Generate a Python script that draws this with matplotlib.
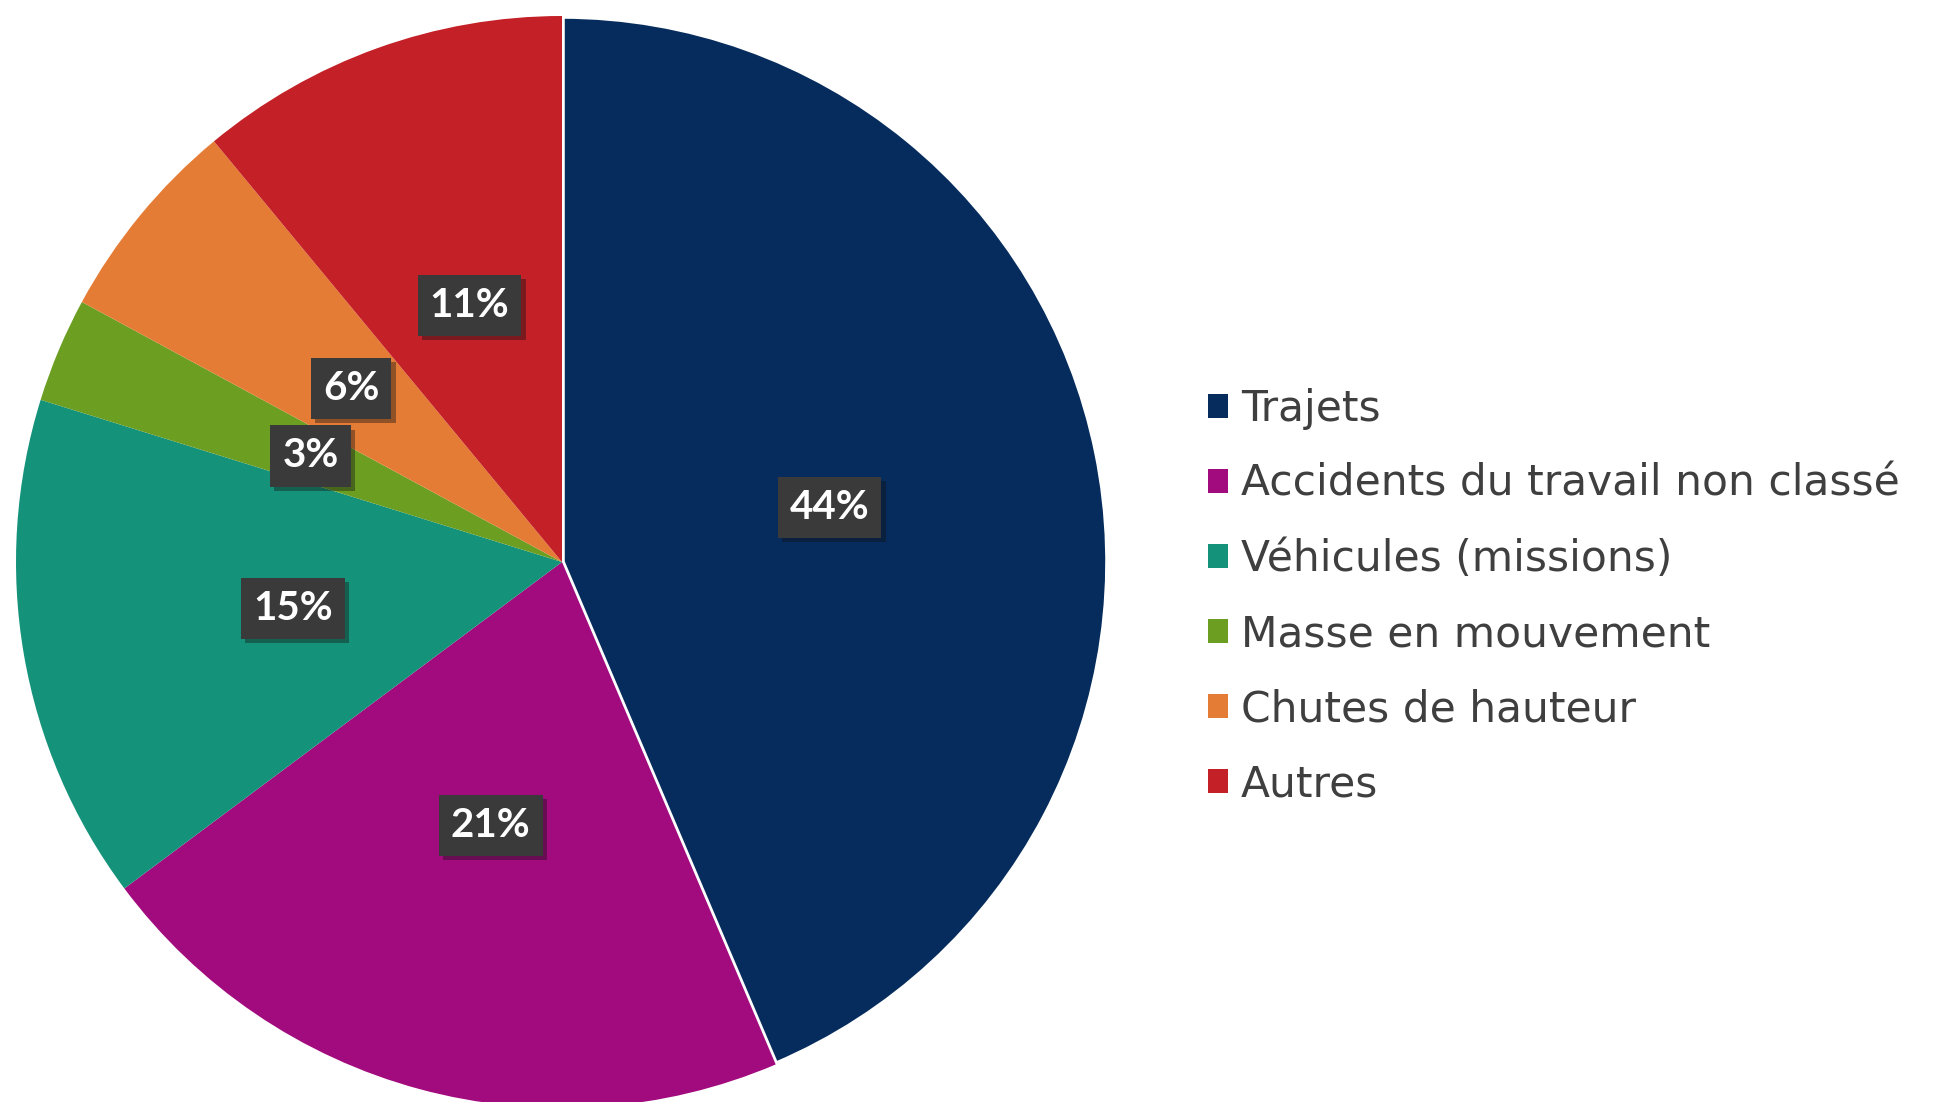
import matplotlib
matplotlib.use("Agg")
import matplotlib.pyplot as plt
import matplotlib.patheffects as pe
from matplotlib.patches import Patch

# part des accidents par catégorie (%)
categories = ["Trajets", "Accidents du travail non classé", "Véhicules (missions)",
              "Masse en mouvement", "Chutes de hauteur", "Autres"]
values = [43.6, 21.2, 15.0, 3.1, 6.1, 11.0]
colors = ["#052c5c", "#a20b7e", "#15937a", "#6c9e22", "#e57c35", "#c32027"]

plt.rcParams['font.family'] = ['Lato', 'DejaVu Sans']

W, H = 1935, 1102
fig = plt.figure(figsize=(W / 100, H / 100), dpi=100)

# pie area: centre ~(562, 562) px, radius ~545 px
cx, cy, r = 562, 562, 546
ax = fig.add_axes([(cx - r) / W, (H - cy - r) / H, 2 * r / W, 2 * r / H])

wedges, texts, autotexts = ax.pie(values, colors=colors, startangle=90, counterclock=False,
                                  autopct='%.0f%%', pctdistance=0.5,
                                  wedgeprops=dict(linewidth=0))
# only the big slice has a white border in the original
wedges[0].set_edgecolor("white")
wedges[0].set_linewidth(4)

for t in autotexts:
    t.set_color("white")
    t.set_fontsize(29)
    t.set_fontweight("bold")
    t.set_bbox(dict(boxstyle="square,pad=0.3", facecolor="#3a3a3a", edgecolor="none"))
    t.get_bbox_patch().set_path_effects([pe.withSimplePatchShadow(offset=(3, -3), alpha=0.4)])

ax.set_xlim(-1, 1)
ax.set_ylim(-1, 1)
ax.set_aspect("equal")
ax.axis("off")

handles = [Patch(facecolor=c, edgecolor="none") for c in colors]
leg = fig.legend(handles, categories, loc="upper left", bbox_to_anchor=(1191 / W, 1 - 371 / H),
                 frameon=False, prop={"family": "DejaVu Sans", "size": 30.5}, labelcolor="#3f3f3f",
                 handlelength=0.48, handleheight=0.48, handletextpad=0.3,
                 labelspacing=0.78, borderaxespad=0)

fig.savefig("out.png", dpi=100)
